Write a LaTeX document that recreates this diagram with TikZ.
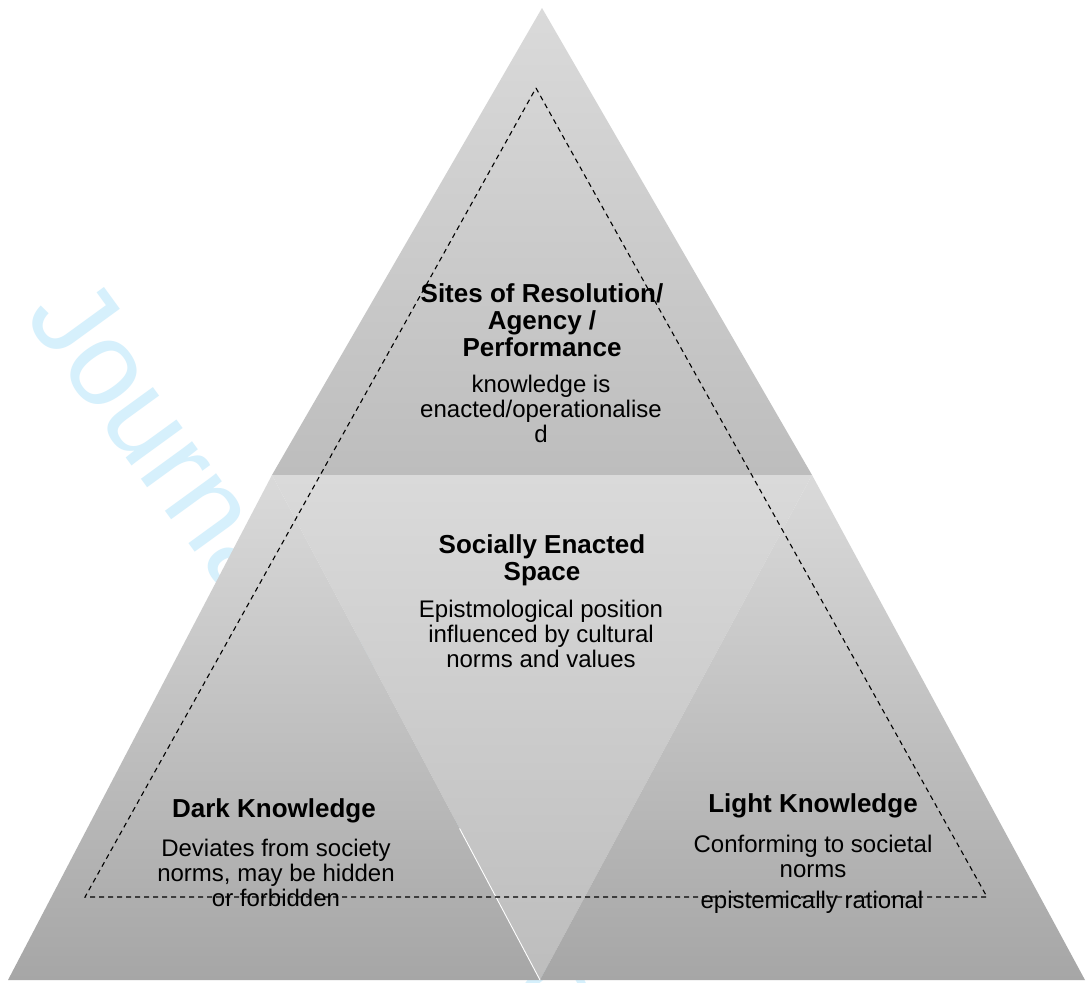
\documentclass[tikz,border=0pt]{standalone}
\usepackage{fontspec}
\setmainfont{Liberation Sans}
\usetikzlibrary{calc}
\definecolor{wm}{RGB}{214,240,252}
\definecolor{gtop}{RGB}{218,218,218}
\definecolor{gmid}{RGB}{189,189,189}
\definecolor{gbot}{RGB}{166,166,166}
\begin{document}
\begin{tikzpicture}[x=1pt,y=-1pt,
  titletext/.style={font=\fontsize{26}{27}\selectfont\bfseries, align=center, inner sep=0pt},
  bodytext/.style={font=\fontsize{24}{25}\selectfont, align=center, inner sep=0pt},
  guide/.style={draw=black, line width=1.1pt, dash pattern=on 5pt off 4pt},
]
\useasboundingbox (0,0) rectangle (1088,983);
\fill[white] (0,0) rectangle (1088,983);
% watermark
\node[rotate=-54, anchor=base west, text=wm, font=\fontsize{120}{120}\selectfont, inner sep=0pt] (wmark) at (23,316) {Journal Pre-proof};
% corners
\coordinate (A) at (542,8);
\coordinate (L1) at (272,475);
\coordinate (R1) at (812,475);
\coordinate (BL) at (8,980);
\coordinate (BM) at (540,980);
\coordinate (BR) at (1085,980);
% triangles
\shade[top color=gtop, bottom color=gmid] (A) -- (R1) -- (L1) -- cycle;
\shade[top color=gtop, bottom color=gmid] (L1) -- (R1) -- (BM) -- cycle;
\shade[top color=gtop, bottom color=gbot] (L1) -- (BM) -- (BL) -- cycle;
\shade[top color=gtop, bottom color=gbot] (R1) -- (BR) -- (BM) -- cycle;
\draw[white, line width=0.9pt] ($(L1)!0.70!(BM)$) -- (BM);
% dashed triangle
\coordinate (D1) at (536,88);
\coordinate (D2) at (85,897);
\coordinate (D3) at (987,897);
\draw[guide] (D1) -- (D3) -- (D2) -- cycle;
% texts
\node[titletext] (t1) at (542,320) {Sites of Resolution/\\Agency /\\Performance};
\node[bodytext] (b1) at (541,409) {knowledge is\\enacted/operationalise\\d};
\node[titletext] (t2) at (542,560) {Socially Enacted\\Space};
\node[bodytext] (b2) at (541,634) {Epistmological position\\influenced by cultural\\norms and values};
\node[titletext] (t3) at (274,811) {Dark Knowledge};
\node[bodytext] (b3) at (276,873) {Deviates from society\\norms, may be hidden\\or forbidden};
\node[titletext] (t4) at (813,806) {Light Knowledge};
\node[bodytext] (b4) at (813,856) {Conforming to societal\\norms};
\node[bodytext] (b5) at (812,902) {epistemically rational};
\end{tikzpicture}
\end{document}
